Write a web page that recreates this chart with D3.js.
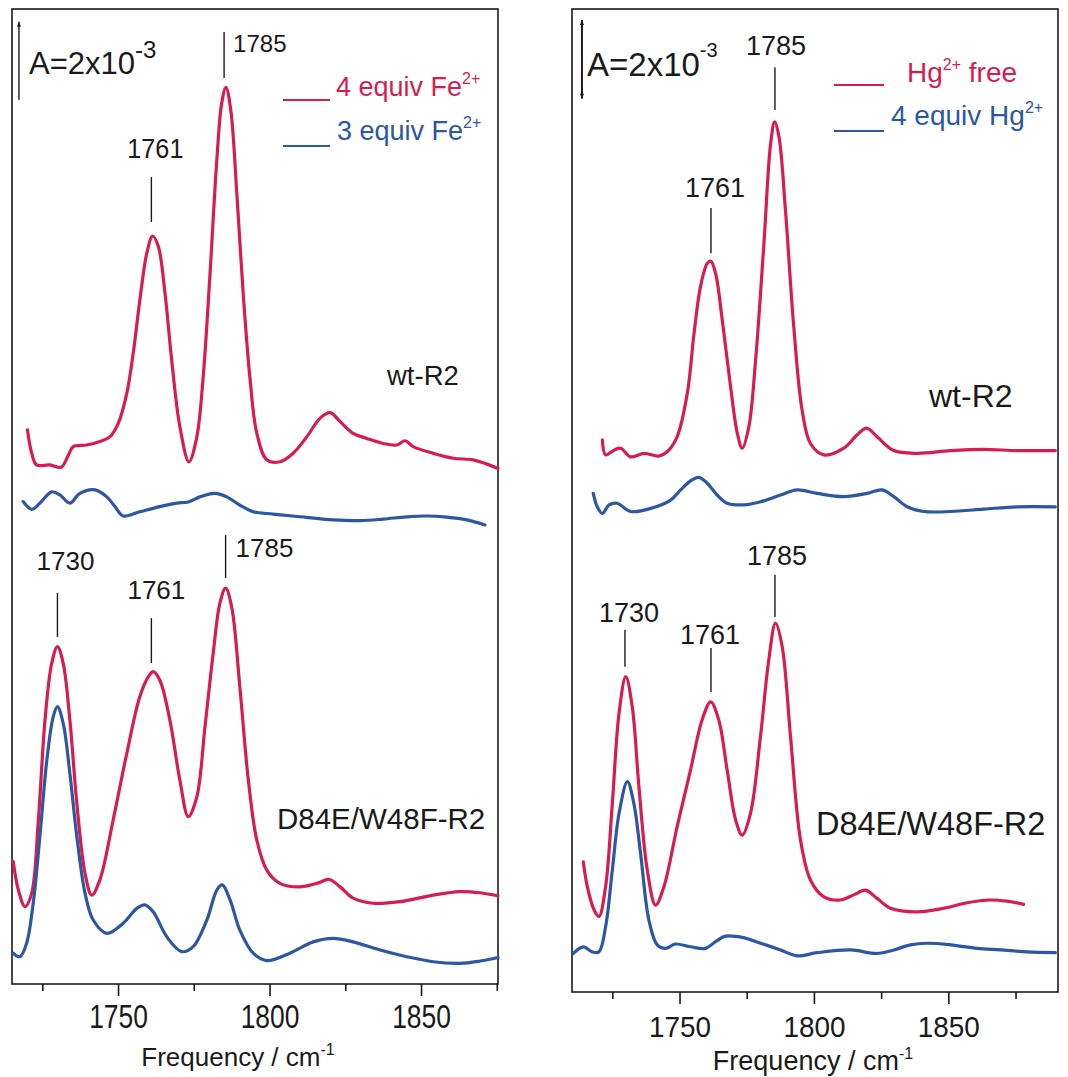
<!DOCTYPE html>
<html><head><meta charset="utf-8">
<script src="https://cdn.jsdelivr.net/npm/d3@7"></script>
<style>
body{margin:0;background:#fff}
svg text{font-family:"Liberation Sans",Arial,Helvetica,sans-serif;fill:#1a1a1a}
</style>
</head><body>
<svg id="c" width="1068" height="1077"></svg>
<script>
// ---------------- DATA (frequency cm^-1, absorbance in units of 1e-3, stacked offsets included) -------------
const majorTicks = [1750, 1800, 1850];
const minorTicks = [1725, 1775, 1825, 1875];
const peakLabels = ["1730", "1761", "1785"];

// Left panel, wt-R2
const feWt4 = [[1720.1,14.21],[1721.5,13.61],[1723.1,13.31],[1727.5,13.31],[1731.2,13.25],[1733.6,13.56],[1735.2,13.78],[1739.7,13.82],[1744,13.91],[1747.3,14.03],[1750.1,14.38],[1752.9,15.15],[1755,16.17],[1757.2,17.54],[1759.5,18.74],[1761.4,19.18],[1763.3,18.91],[1765.5,17.71],[1767.7,16.0],[1770.4,14.29],[1773.4,13.39],[1776,14.03],[1778.1,15.57],[1780.3,18.14],[1782.6,21.13],[1784.2,22.58],[1785.6,22.99],[1787.2,22.41],[1789.2,20.27],[1791.3,17.71],[1793.5,15.57],[1795.8,14.12],[1799.1,13.44],[1803.4,13.39],[1807.8,13.61],[1812.3,14.03],[1816.7,14.51],[1820,14.65],[1823.3,14.42],[1827.6,14.12],[1832.1,13.99],[1837.5,13.86],[1842,13.82],[1844.7,13.93],[1847.4,13.78],[1854,13.61],[1860.7,13.48],[1867.2,13.44],[1871.7,13.33],[1875.4,13.22]];
const feWt3 = [[1718.7,12.37],[1721.5,12.17],[1724.2,12.33],[1728.1,12.62],[1730.8,12.54],[1734.1,12.33],[1737.4,12.58],[1742.4,12.67],[1746.3,12.49],[1749,12.24],[1751.7,12.0],[1757.2,12.11],[1763.8,12.24],[1769.4,12.33],[1773.2,12.36],[1777,12.49],[1782,12.58],[1785.9,12.49],[1790.2,12.28],[1794.6,12.11],[1801.2,12.05],[1810,11.98],[1821,11.9],[1829.8,11.88],[1837.5,11.92],[1845.3,11.98],[1851.9,12.0],[1858.5,11.97],[1865.1,11.9],[1871.1,11.77]];
// Left panel, D84E/W48F-R2
const feMut4 = [[1715.4,3.14],[1717.1,2.41],[1719.3,1.98],[1721.5,2.33],[1723.7,4.21],[1725.9,6.77],[1728.1,8.22],[1730,8.65],[1731.9,8.22],[1734.1,6.77],[1736.4,4.63],[1739.1,2.84],[1741.3,2.28],[1744,2.67],[1748.4,4.21],[1752.9,5.92],[1757.2,7.37],[1760,7.88],[1761.6,8.01],[1763.8,7.79],[1767.1,6.77],[1770.4,5.23],[1773.2,4.29],[1776,4.8],[1778.7,6.6],[1781.4,8.48],[1783.6,9.76],[1785.5,10.15],[1787.5,9.67],[1790.2,7.62],[1793,5.23],[1795.8,3.69],[1799.1,2.92],[1803.4,2.58],[1810,2.49],[1815.6,2.58],[1819.7,2.68],[1823.3,2.49],[1827.6,2.2],[1834.2,2.07],[1843,2.11],[1854,2.28],[1862.9,2.37],[1869.5,2.34],[1875.4,2.26]];
const feMut3 = [[1715.4,0.79],[1717.6,0.7],[1719.8,1.04],[1722,2.07],[1724.2,3.78],[1726.5,5.74],[1728.6,6.85],[1730,7.11],[1731.9,6.68],[1734.1,5.4],[1736.4,3.78],[1739.1,2.33],[1741.8,1.64],[1746.3,1.3],[1751.7,1.56],[1756.2,1.94],[1758.9,2.03],[1761.6,1.85],[1766.1,1.21],[1771,0.83],[1774.8,0.96],[1779.3,1.64],[1782.6,2.41],[1784.4,2.54],[1787,2.15],[1790.2,1.38],[1794.6,0.79],[1799.1,0.6],[1806.7,0.79],[1814.4,1.08],[1821,1.17],[1827.6,1.08],[1836.5,0.87],[1845.3,0.7],[1854,0.57],[1862.9,0.53],[1869.5,0.59],[1875.4,0.68]];

// Right panel, wt-R2
const hgWtFree = [[1721.3,14.04],[1722.5,13.66],[1725.6,13.78],[1728.1,13.83],[1731.8,13.61],[1736.8,13.7],[1742.3,13.63],[1745.4,13.74],[1749.1,14.12],[1752.9,15.23],[1755.4,16.75],[1757.8,17.94],[1760.3,18.53],[1761.6,18.59],[1763.4,18.28],[1765.9,17.09],[1769,15.39],[1771.5,14.21],[1773.3,13.83],[1775.8,14.38],[1778.3,16.07],[1781.4,19.04],[1783.9,21.58],[1785.4,22.13],[1787,21.75],[1789.4,19.89],[1792.5,16.92],[1795.6,14.8],[1798.7,13.95],[1803.7,13.66],[1811.1,13.83],[1816.1,14.17],[1819.6,14.34],[1823.5,14.12],[1829.7,13.77],[1838.4,13.7],[1850.8,13.77],[1863.2,13.8],[1875.5,13.77],[1889.8,13.77]];
const hgWt4 = [[1717.9,12.68],[1719.4,12.34],[1721.3,12.17],[1723.8,12.39],[1726.8,12.43],[1731.8,12.22],[1739.3,12.3],[1746.7,12.51],[1750.4,12.77],[1754.1,13.0],[1757.2,13.09],[1760.3,12.94],[1764,12.64],[1767.7,12.43],[1773.9,12.39],[1780.2,12.47],[1787.6,12.64],[1793.8,12.77],[1801.2,12.68],[1811.1,12.6],[1819.8,12.68],[1825.4,12.77],[1829.7,12.6],[1834.7,12.34],[1840.9,12.22],[1850.8,12.22],[1863.2,12.28],[1875.5,12.34],[1889.8,12.34]];
// Right panel, D84E/W48F-R2
const hgMutFree = [[1714.2,3.31],[1715.7,2.68],[1718.2,2.09],[1720,1.92],[1722.5,2.68],[1725,4.8],[1727.5,7.09],[1730,8.02],[1732.4,7.26],[1734.9,5.22],[1738,3.1],[1741.1,2.21],[1744.2,2.68],[1749.1,4.2],[1754.1,5.65],[1758.4,6.92],[1761.6,7.38],[1764.6,6.92],[1767.7,5.65],[1770.9,4.37],[1773.3,3.99],[1776.4,4.54],[1780.1,6.49],[1783.2,8.44],[1785.7,9.38],[1788.2,8.78],[1791.3,6.49],[1795,3.87],[1798.7,2.85],[1803.7,2.42],[1809.9,2.34],[1814.8,2.47],[1819.2,2.59],[1823.5,2.38],[1828.5,2.13],[1838.4,2.04],[1848.3,2.13],[1857,2.27],[1865.6,2.34],[1871.8,2.31],[1878,2.23]];
const hgMut4 = [[1710.5,0.98],[1714.2,1.15],[1717.5,1.02],[1720,1.02],[1722.5,1.66],[1725,3.1],[1727.5,4.54],[1730.6,5.35],[1733,4.8],[1735.5,3.53],[1738.6,1.83],[1741.7,1.2],[1744.8,1.11],[1748.5,1.22],[1754.1,1.15],[1759.7,1.11],[1763.4,1.28],[1767.1,1.42],[1773.3,1.39],[1780.2,1.24],[1787.6,1.07],[1793.8,0.92],[1801.2,1.0],[1813.6,1.07],[1823.5,0.98],[1829.7,1.07],[1835.9,1.2],[1842.1,1.24],[1850.8,1.2],[1860.7,1.11],[1869.4,1.07],[1879.3,1.02],[1889.8,1.0]];

const leftLegend = ["4 equiv Fe", "3 equiv Fe"];
const rightLegend = ["Hg", "4 equiv Hg"];

// ---------------- LAYOUT ----------------
const RED = "#d81c4f", BLUE = "#2b57a3", INK = "#1a1a1a";
const svg = d3.select("#c");
svg.append("rect").attr("width",1068).attr("height",1077).attr("fill","#fff");

const defs = svg.append("defs");
["up","down"].forEach(k=>{
  defs.append("marker").attr("id","ar-"+k).attr("viewBox","0 0 10 10").attr("refX",5).attr("refY",k==="up"?0:10)
    .attr("markerWidth",5).attr("markerHeight",7).attr("orient","0").attr("markerUnits","userSpaceOnUse")
    .append("path").attr("d", k==="up" ? "M1,10 L5,0 L9,10 Z" : "M1,0 L5,10 L9,0 Z").attr("fill",INK);
});

function rich(g, x, y, parts, size, opts={}) {
  const t = g.append("text").attr("x",x).attr("y",y).attr("font-size",size)
    .attr("text-anchor", opts.anchor || "start").style("fill", opts.color || INK);
  if (opts.sx) t.attr("transform", `translate(${x},${y}) scale(${opts.sx},1) translate(${-x},${-y})`);
  let raised = 0;
  parts.forEach(p=>{
    const s = t.append("tspan").text(p.t);
    if (p.sup) { s.attr("font-size", p.size).attr("dy", -p.raise); raised = p.raise; }
    else if (raised) { s.attr("dy", raised); raised = 0; }
  });
  return t;
}

const panels = [
  { left:12, right:498, top:9, bottom:984, xDomain:[1715,1875.4],
    tickFont:33, tickSX:0.8, tickLabelY:44,
    series:[[feWt4,RED],[feWt3,BLUE],[feMut4,RED],[feMut3,BLUE]],
    bar:{f:1717.3, a0:22.67, a1:24.67},
    aLabel:{x:29, y:74, size:31, sup:24, raise:16},
    marks:[ {p:"1785", f:1785, a0:23.23, a1:24.41, la:23.90, dx:9, anchor:"start", size:24},
            {p:"1761", f:1761, a0:19.54, a1:20.69, la:21.18, dx:4, anchor:"middle", size:28, sx:0.9},
            {p:"1730", f:1730, a0:8.90, a1:10.03, la:10.62, dx:8, anchor:"middle", size:26},
            {p:"1761", f:1761, a0:8.23, a1:9.38, la:9.87, dx:5, anchor:"middle", size:26},
            {p:"1785", f:1785.5, a0:10.41, a1:11.51, la:10.95, dx:10, anchor:"start", size:26} ],
    legend:{names:leftLegend, x0:283, x1:330, tx:336, rows:[[100,96],[146,140]], size:27},
    wt:{x:387, y:385, size:27.5}, mut:{x:277, y:829, size:29.5},
    title:{x:238, y:1066, size:26}
  },
  { left:572, right:1058, top:9, bottom:992, xDomain:[1710,1890.8],
    tickFont:30, tickSX:0.93, tickLabelY:45,
    series:[[hgWtFree,RED],[hgWt4,BLUE],[hgMutFree,RED],[hgMut4,BLUE]],
    bar:{f:1713.7, a0:22.72, a1:24.72},
    aLabel:{x:587, y:76, size:33, sup:20, raise:19},
    marks:[ {p:"1785", f:1785.5, a0:22.43, a1:23.52, la:23.83, dx:1, anchor:"middle", size:27},
            {p:"1761", f:1761.7, a0:18.79, a1:19.94, la:20.22, dx:4, anchor:"middle", size:27},
            {p:"1730", f:1729.7, a0:8.27, a1:9.21, la:9.41, dx:4, anchor:"middle", size:27},
            {p:"1761", f:1761.7, a0:7.63, a1:8.75, la:8.85, dx:-1, anchor:"middle", size:27},
            {p:"1785", f:1785.5, a0:9.54, a1:10.61, la:10.86, dx:2, anchor:"middle", size:27} ],
    legend:{names:rightLegend, x0:834, x1:884, tx:907, rows:[[85,82],[131,125]], size:28, tx2:891},
    wt:{x:929, y:407, size:32}, mut:{x:816, y:835, size:32.5},
    title:{x:813, y:1070, size:27}
  }
];

panels.forEach((cfg, pi)=>{
  const x = d3.scaleLinear().domain(cfg.xDomain).range([cfg.left, cfg.right]);
  const y = d3.scaleLinear().domain([0,25]).range([cfg.bottom, cfg.top]);
  const g = svg.append("g");

  // frame
  g.append("rect").attr("x",cfg.left).attr("y",cfg.top).attr("width",cfg.right-cfg.left)
    .attr("height",cfg.bottom-cfg.top).attr("fill","none").attr("stroke",INK).attr("stroke-width",1.6);

  // axis
  const ax = g.append("g").attr("transform",`translate(0,${cfg.bottom})`)
    .call(d3.axisBottom(x).tickValues(majorTicks).tickSize(12).tickSizeOuter(0).tickFormat(d3.format("d")));
  ax.select(".domain").remove();
  ax.attr("font-family",null).attr("font-size",null);
  ax.selectAll("line").attr("stroke",INK).attr("stroke-width",1.6);
  ax.selectAll("text").attr("y",cfg.tickLabelY).attr("dy",0).attr("font-size",cfg.tickFont)
    .attr("transform",`scale(${cfg.tickSX},1)`).style("fill",INK);
  const mx = g.append("g").attr("transform",`translate(0,${cfg.bottom})`)
    .call(d3.axisBottom(x).tickValues(minorTicks).tickSize(7).tickSizeOuter(0).tickFormat(""));
  mx.select(".domain").remove();
  mx.selectAll("line").attr("stroke",INK).attr("stroke-width",1.6);

  // axis title
  rich(g, cfg.title.x, cfg.title.y, [{t:"Frequency / cm"},{t:"-1",sup:true,size:16,raise:11}], cfg.title.size, {anchor:"middle"});

  // spectra
  const line = d3.line().x(d=>x(d[0])).y(d=>y(d[1])).curve(d3.curveCatmullRom.alpha(0.5));
  cfg.series.forEach(([data,color])=>{
    g.append("path").datum(data).attr("d",line).attr("fill","none").attr("stroke",color)
      .attr("stroke-width",3.2).attr("stroke-linejoin","round").attr("stroke-linecap","round");
  });

  // scale bar
  g.append("line").attr("x1",x(cfg.bar.f)).attr("x2",x(cfg.bar.f)).attr("y1",y(cfg.bar.a0)).attr("y2",y(cfg.bar.a1))
    .attr("stroke",INK).attr("stroke-width",pi?2:1.4)
    .attr("marker-end","url(#ar-up)").attr("marker-start", pi ? "url(#ar-down)" : null);
  rich(g, cfg.aLabel.x, cfg.aLabel.y, [{t:"A=2x10"},{t:"-3",sup:true,size:cfg.aLabel.sup,raise:cfg.aLabel.raise}], cfg.aLabel.size);

  // peak markers
  cfg.marks.forEach(m=>{
    g.append("line").attr("x1",x(m.f)).attr("x2",x(m.f)).attr("y1",y(m.a0)).attr("y2",y(m.a1))
      .attr("stroke",INK).attr("stroke-width",1.4);
    rich(g, x(m.f)+m.dx, y(m.la), [{t:m.p}], m.size, {anchor:m.anchor, sx:m.sx});
  });

  // legend
  const L = cfg.legend;
  [RED, BLUE].forEach((c,i)=>{
    g.append("line").attr("x1",L.x0).attr("x2",L.x1).attr("y1",L.rows[i][0]).attr("y2",L.rows[i][0])
      .attr("stroke",c).attr("stroke-width",2);
  });
  if (pi===0) {
    rich(g, L.tx, L.rows[0][1], [{t:L.names[0]},{t:"2+",sup:true,size:16,raise:12}], L.size, {color:RED});
    rich(g, L.tx+1, L.rows[1][1], [{t:L.names[1]},{t:"2+",sup:true,size:16,raise:12}], L.size, {color:BLUE});
  } else {
    rich(g, L.tx, L.rows[0][1], [{t:L.names[0]},{t:"2+",sup:true,size:16,raise:12},{t:" free"}], L.size, {color:RED});
    rich(g, L.tx2, L.rows[1][1], [{t:L.names[1]},{t:"2+",sup:true,size:16,raise:12}], L.size, {color:BLUE});
  }

  // sample labels
  rich(g, cfg.wt.x, cfg.wt.y, [{t:"wt-R2"}], cfg.wt.size);
  rich(g, cfg.mut.x, cfg.mut.y, [{t:"D84E/W48F-R2"}], cfg.mut.size);
});
</script>
</body></html>
